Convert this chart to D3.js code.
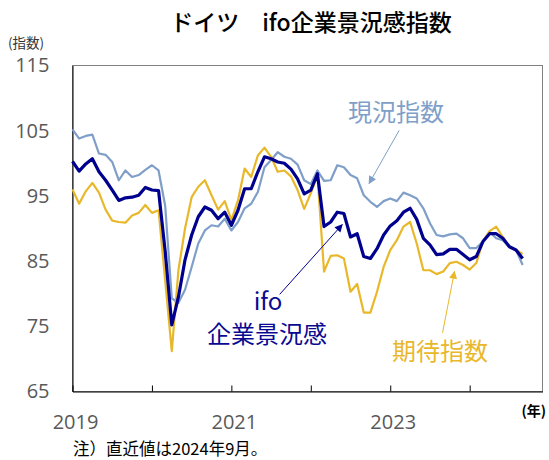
<!DOCTYPE html>
<html lang="ja">
<head>
<meta charset="UTF-8">
<title>ドイツ ifo企業景況感指数</title>
<script src="https://d3js.org/d3.v7.min.js"></script>
<style>
  body { margin: 0; background: #fff; }
  svg { display: block; font-family: "Noto Sans CJK JP", "Noto Sans", sans-serif; }
  .tick-num { font-family: "Open Sans", "Liberation Sans", sans-serif; font-size: 20px; fill: #595959; }
</style>
</head>
<body>
<svg width="549" height="460"></svg>
<script>
// monthly values, Jan 2019 .. Sep 2024
const ifoClimate = [100.3, 98.8, 99.9, 100.7, 98.7, 97.4, 95.9, 94.3, 94.7, 94.8, 95.1, 96.3,
  95.9, 95.8, 86.5, 75.2, 79.5, 85.2, 89.0, 91.8, 93.3, 92.8, 91.5, 92.5,
  90.5, 92.8, 96.1, 96.1, 98.7, 101.0, 100.7, 100.2, 100.0, 99.1, 97.6, 95.3,
  95.9, 98.4, 90.3, 91.0, 92.5, 92.3, 88.7, 89.2, 85.7, 85.4, 86.9, 89.0,
  90.4, 91.2, 92.5, 93.1, 91.4, 88.5, 87.5, 86.0, 86.1, 86.8, 86.8, 86.0,
  85.2, 85.7, 88.0, 89.2, 89.2, 88.5, 87.2, 86.7, 85.4];
const currentIndex = [105.2, 103.8, 104.2, 104.4, 101.5, 101.3, 100.2, 97.4, 98.9, 97.9, 98.2, 99.0,
  99.7, 98.9, 93.5, 79.3, 78.6, 80.6, 84.1, 87.7, 89.7, 90.5, 90.3, 91.5,
  89.7, 91.0, 93.1, 93.8, 95.6, 99.4, 100.5, 101.7, 101.0, 100.7, 99.8, 97.4,
  96.8, 98.9, 97.3, 97.4, 99.7, 99.4, 98.2, 97.7, 95.1, 94.1, 93.3, 94.2,
  94.6, 94.2, 95.5, 95.1, 94.6, 93.1, 90.8, 89.0, 88.8, 89.1, 89.2, 88.5,
  87.0, 87.0, 88.0, 89.5, 88.5, 88.2, 87.2, 86.7, 84.4];
const expectIndex = [96.0, 93.8, 95.7, 97.0, 95.5, 92.9, 91.2, 91.0, 90.9, 92.0, 92.4, 93.6,
  92.4, 92.8, 82.0, 71.2, 83.6, 90.0, 94.8, 96.4, 97.4, 95.1, 92.9, 94.2,
  91.3, 94.3, 99.2, 97.9, 101.2, 102.4, 101.0, 98.7, 98.9, 98.0, 95.9, 93.0,
  95.4, 98.2, 83.4, 85.8, 85.9, 85.4, 80.3, 81.5, 77.1, 77.1, 80.3, 84.1,
  86.7, 88.2, 90.3, 91.0, 87.7, 83.6, 83.6, 83.0, 83.4, 84.7, 84.9, 84.4,
  83.7, 84.7, 88.0, 89.6, 90.3, 88.7, 87.2, 86.7, 86.1];
const years = [2019, 2020, 2021, 2022, 2023, 2024];
const yearLabels = ["2019", "2021", "2023"];
const yTicks = [65, 75, 85, 95, 105, 115];

const svg = d3.select("svg");
const x = d3.scaleLinear().domain([0, 71]).range([72.5, 542.5]);
const y = d3.scaleLinear().domain([65, 115]).range([391.5, 65.5]);

// title
svg.append("text").attr("x", 311).attr("y", 31).attr("text-anchor", "middle")
  .attr("font-size", 23).attr("font-weight", 500).attr("fill", "#000").text("ドイツ　ifo企業景況感指数");
svg.append("text").attr("x", 8).attr("y", 48).attr("font-size", 13.5).attr("fill", "#333").text("(指数)");

// plot frame
svg.append("rect").attr("x", x(0)).attr("y", y(115)).attr("width", x(71) - x(0)).attr("height", y(65) - y(115))
  .attr("fill", "none").attr("stroke", "#808080").attr("stroke-width", 1);

// y axis
const yAxis = svg.append("g").attr("transform", `translate(${x(0)},0)`)
  .call(d3.axisLeft(y).tickValues(yTicks).tickSize(0).tickSizeOuter(0).tickPadding(23));
yAxis.select(".domain").attr("stroke", "#000");
yAxis.selectAll("text").attr("class", "tick-num").attr("font-family", null).attr("font-size", null).attr("fill", null);

// x axis, ticks pointing inward
const xAxis = svg.append("g").attr("transform", `translate(0,${y(65)})`)
  .call(d3.axisBottom(x).tickValues(years.map(yr => (yr - 2019) * 12)).tickSize(-6).tickSizeOuter(0).tickFormat(""));
xAxis.select(".domain").attr("stroke", "#000");
xAxis.selectAll(".tick line").attr("stroke", "#000");

svg.selectAll(".year-label").data(yearLabels).enter().append("text")
  .attr("class", "tick-num year-label")
  .attr("x", d => x((+d - 2019) * 12) + 3).attr("y", 429)
  .attr("text-anchor", "middle").text(d => d);

svg.append("text").attr("x", 546).attr("y", 416).attr("text-anchor", "end")
  .attr("font-size", 14).attr("font-weight", "bold").attr("fill", "#000").text("(年)");

svg.append("text").attr("x", 73).attr("y", 455).attr("font-size", 16.5).attr("fill", "#000")
  .text("注）直近値は2024年9月。");

// lines
const line = d3.line().x((d, i) => x(i)).y(d => y(d));
const series = [
  { values: currentIndex, color: "#7f9fc9", width: 2.2 },
  { values: expectIndex, color: "#e9b82a", width: 2.2 },
  { values: ifoClimate, color: "#00008f", width: 3.2 }
];
svg.selectAll(".series").data(series).enter().append("path")
  .attr("class", "series")
  .attr("d", d => line(d.values))
  .attr("fill", "none")
  .attr("stroke", d => d.color)
  .attr("stroke-width", d => d.width)
  .attr("stroke-linejoin", "round");

// annotations (in data coordinates)
const defs = svg.append("defs");
const notes = [
  { id: "cur", color: "#7f9fc9", from: [49.35, 105.05], to: [44.8, 96.9] },
  { id: "ifo", color: "#00008f", from: [31.3, 79.9], to: [40.75, 90.6] },
  { id: "exp", color: "#e9b82a", from: [55.9, 74.0], to: [57.7, 83.4] }
];
notes.forEach(n => {
  defs.append("marker").attr("id", "arr-" + n.id)
    .attr("viewBox", "0 0 10 10").attr("refX", 9).attr("refY", 5)
    .attr("markerWidth", 10).attr("markerHeight", 8).attr("markerUnits", "userSpaceOnUse")
    .attr("orient", "auto")
    .append("path").attr("d", "M0,0L10,5L0,10Z").attr("fill", n.color);
  svg.append("line")
    .attr("x1", x(n.from[0])).attr("y1", y(n.from[1]))
    .attr("x2", x(n.to[0])).attr("y2", y(n.to[1]))
    .attr("stroke", n.color).attr("stroke-width", 1)
    .attr("marker-end", `url(#arr-${n.id})`);
});

const labels = [
  { text: "現況指数", x: 396, y: 121, color: "#7f9fc9" },
  { text: "ifo", x: 268, y: 310, color: "#0a0a90" },
  { text: "企業景況感", x: 267, y: 343, color: "#0a0a90" },
  { text: "期待指数", x: 440, y: 360, color: "#e9b82a" }
];
svg.selectAll(".lbl").data(labels).enter().append("text")
  .attr("class", "lbl")
  .attr("x", d => d.x).attr("y", d => d.y)
  .attr("text-anchor", "middle").attr("font-size", 24)
  .attr("fill", d => d.color).text(d => d.text);
</script>
</body>
</html>
